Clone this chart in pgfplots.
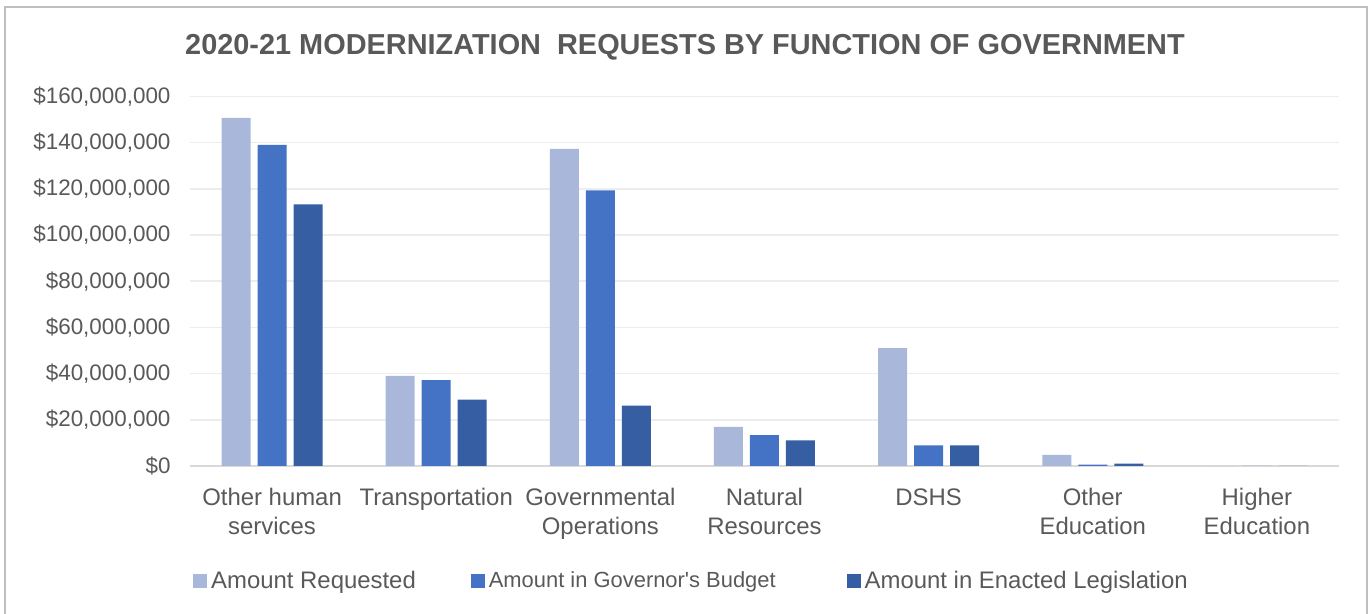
\documentclass[border=0pt]{standalone}
\usepackage{pgfplots}
\pgfplotsset{compat=1.18}
\usepackage{fontspec}
\setmainfont{Liberation Sans}[Ligatures=TeXOff]
\definecolor{txt}{HTML}{595959}
\definecolor{cReq}{HTML}{A9B7DB}
\definecolor{cGov}{HTML}{4472C4}
\definecolor{cEna}{HTML}{365EA3}
\definecolor{grd}{HTML}{EDEDED}
\definecolor{axl}{HTML}{D9D9D9}
\definecolor{frm}{HTML}{BFBFBF}
\begin{document}
\begin{tikzpicture}[x=1bp,y=1bp]
\useasboundingbox (0,0) rectangle (1368,614);
\draw[frm,line width=2bp] (5,-10) -- (5,607) -- (1367,607) -- (1367,-10);
\node[txt,font=\fontsize{29}{34}\selectfont\bfseries] at (685,567) {2020-21 MODERNIZATION\ \ REQUESTS BY FUNCTION OF GOVERNMENT};
\begin{axis}[
  at={(190bp,148bp)}, anchor=south west,
  scale only axis, width=1149bp, height=369.5bp,
  ybar=7bp, bar width=29bp,
  xmin=-0.5, xmax=6.5, ymin=0, ymax=160,
  xtick={0,...,6},
  xticklabels={{Other human\\services},{Transportation},{Governmental\\Operations},{Natural\\Resources},{DSHS},{Other\\Education},{Higher\\Education}},
  xticklabel style={align=center, text=txt, font=\fontsize{24}{29}\selectfont, yshift=-19bp},
  ytick={0,20,...,160},
  yticklabels={{\$0},{\$20,000,000},{\$40,000,000},{\$60,000,000},{\$80,000,000},{\$100,000,000},{\$120,000,000},{\$140,000,000},{\$160,000,000}},
  yticklabel style={text=txt, font=\fontsize{22.5}{26}\selectfont, xshift=-16bp},
  major tick length=0pt,
  ymajorgrids, grid style={grd, line width=1.5bp},
  axis y line*=left, axis x line*=bottom,
  y axis line style={draw=none},
  x axis line style={axl, line width=1.5bp, -},
  axis line style={-},
  legend style={at={(0.0,-0.31)}, anchor=west, draw=none, fill=none,
    legend columns=3, font=\fontsize{24}{28}\selectfont, text=txt,
    /tikz/every even column/.append style={column sep=53bp}},
  legend image code/.code={\fill[#1] (0bp,-7bp) rectangle (14bp,7bp);},
  legend cell align=left,
]
\addplot[fill=cReq, draw=none] coordinates {(0,150.7) (1,39.0) (2,137.3) (3,16.9) (4,51.0) (5,4.8) (6,0)};
\addplot[fill=cGov, draw=none] coordinates {(0,139.0) (1,37.2) (2,119.4) (3,13.4) (4,8.9) (5,0.6) (6,0)};
\addplot[fill=cEna, draw=none] coordinates {(0,113.3) (1,28.7) (2,26.1) (3,11.1) (4,8.9) (5,1.0) (6,0)};
\legend{\hspace{2bp}Amount Requested,{\fontsize{22}{26}\selectfont\hspace{2bp}Amount in Governor's Budget\rule{16bp}{0pt}},\hspace{2bp}Amount in Enacted Legislation}
\end{axis}
\end{tikzpicture}
\end{document}
